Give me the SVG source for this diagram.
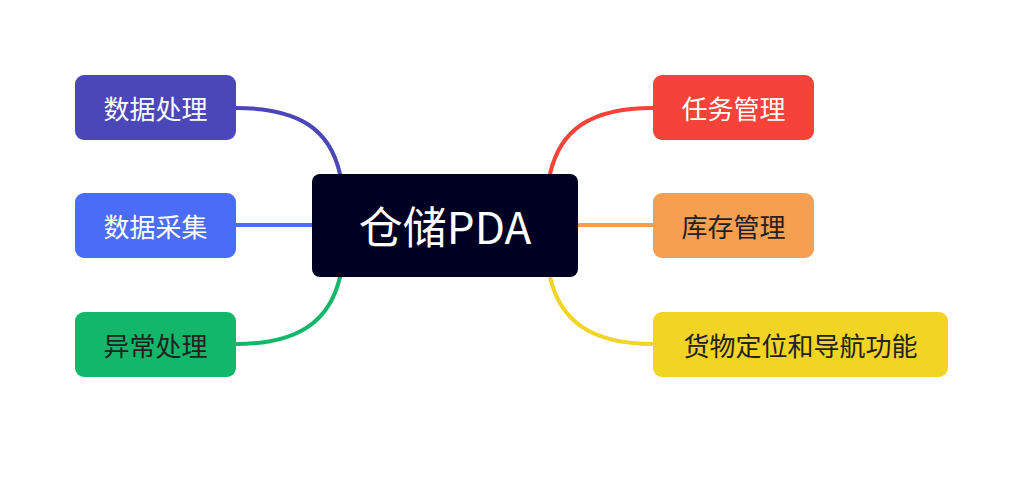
<svg xmlns="http://www.w3.org/2000/svg" width="1024" height="491" viewBox="0 0 1024 491">
<style>
.t{font-family:"Noto Sans CJK SC","Noto Sans",sans-serif;font-size:26px;text-anchor:middle;dominant-baseline:central}
.w{fill:#fff}.d{fill:#222}
.c{fill:none;stroke-width:4;stroke-linecap:round}
</style>
<rect width="1024" height="491" fill="#fff"/>
<g id="connectors">
<path class="c" stroke="#4b47b8" d="M236,108 C300,108 330,130 340,174"/>
<path class="c" stroke="#4a6cf7" d="M236,225 L312,225"/>
<path class="c" stroke="#12b76a" d="M236,344 C300,344 330,320 340,277"/>
<path class="c" stroke="#f5433a" d="M653,108 C590,108 560,130 550,174"/>
<path class="c" stroke="#f5a050" d="M578,225 L653,225"/>
<path class="c" stroke="#f2d424" d="M653,344 C590,344 560,320 550,277"/>
</g>
<g id="center"><rect x="312" y="174" width="266" height="103" rx="8" fill="#000022"/><text class="t w" x="445" y="225" style="font-size:44px">仓储PDA</text></g>
<g id="n1"><rect x="75" y="75" width="161" height="65" rx="9" fill="#4b47b8"/><text class="t w" x="155.5" y="107.5">数据处理</text></g>
<g id="n2"><rect x="75" y="193" width="161" height="65" rx="9" fill="#4a6cf7"/><text class="t w" x="155.5" y="225.5">数据采集</text></g>
<g id="n3"><rect x="75" y="312" width="161" height="65" rx="9" fill="#12b76a"/><text class="t d" x="155.5" y="344.5">异常处理</text></g>
<g id="n4"><rect x="653" y="75" width="161" height="65" rx="9" fill="#f5433a"/><text class="t w" x="733.5" y="107.5">任务管理</text></g>
<g id="n5"><rect x="653" y="193" width="161" height="65" rx="9" fill="#f5a050"/><text class="t d" x="733.5" y="225.5">库存管理</text></g>
<g id="n6"><rect x="653" y="312" width="295" height="65" rx="9" fill="#f2d424"/><text class="t d" x="800.5" y="344.5">货物定位和导航功能</text></g>
</svg>
